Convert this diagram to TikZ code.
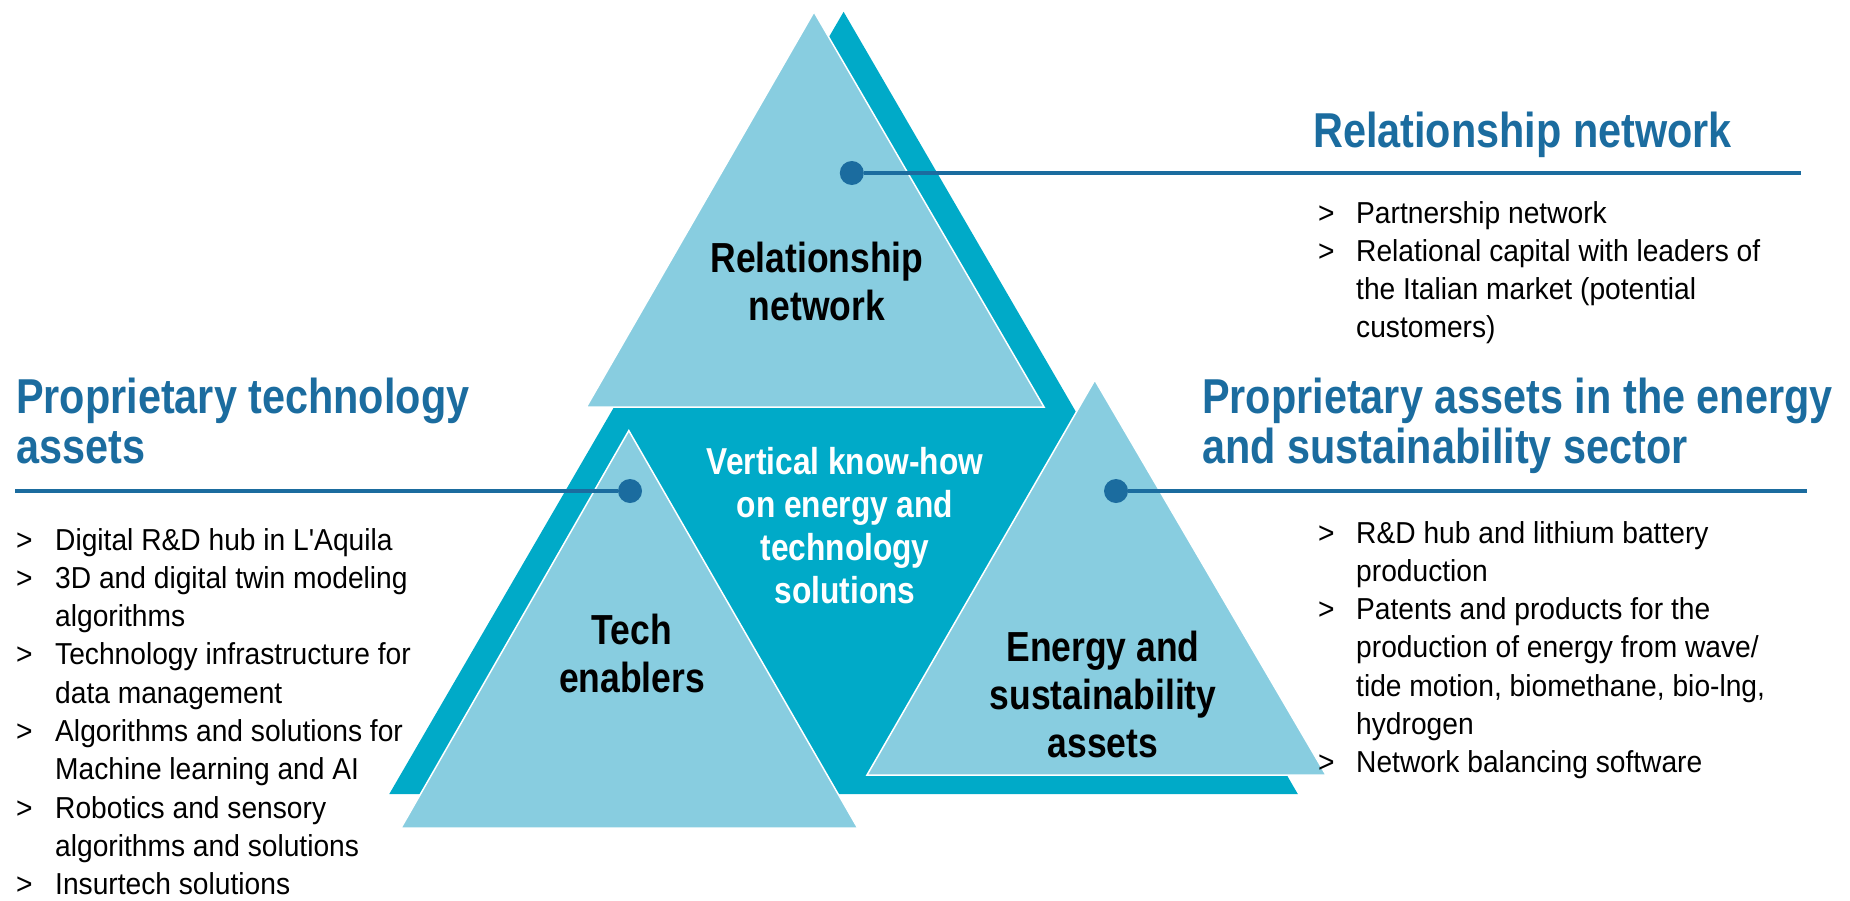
\documentclass[tikz,border=0pt]{standalone}
\usepackage{fontspec}
\setmainfont{Liberation Sans}[FakeStretch=0.93]
\newfontfamily\bodyfont{Liberation Sans}[FakeStretch=0.93]
\newfontfamily\headfont{Liberation Sans}[FakeStretch=0.845]
\definecolor{triLight}{HTML}{88CDE0}
\definecolor{triDark}{HTML}{00AAC8}
\definecolor{headBlue}{HTML}{1B6C9F}
\begin{document}
\begin{tikzpicture}[x=1pt,y=-1pt,
  darktri/.style={fill=triDark},
  lighttri/.style={fill=triLight, draw=white, line width=1.5pt},
  heading/.style={text=headBlue, font=\headfont\bfseries\fontsize{49}{50.5}\selectfont, anchor=base west, inner sep=0pt},
  bodylist/.style={font=\bodyfont\fontsize{30.3}{38.3}\selectfont, anchor=base west, inner sep=0pt},
  trilabel/.style={font=\headfont\bfseries\fontsize{42}{48}\selectfont, anchor=base, inner sep=0pt},
  knowhow/.style={text=white, font=\headfont\bfseries\fontsize{37.5}{43}\selectfont, anchor=base, inner sep=0pt},
  leader/.style={draw=headBlue, line width=4pt},
  hubdot/.style={circle, fill=headBlue, minimum size=24pt, inner sep=0pt}]
\useasboundingbox (0,0) rectangle (1850,900);

% large dark triangle behind the three blocks
\coordinate (dA) at (843.6,11.8);
\coordinate (dL) at (389.3,794);
\coordinate (dR) at (1297.8,794);
\fill[darktri] (dA) -- (dL) -- (dR) -- cycle;

% top block
\coordinate (tA) at (814,11.8);
\coordinate (tL) at (586.4,407);
\coordinate (tR) at (1044,407);
\filldraw[lighttri] (tA) -- (tL) -- (tR) -- cycle;

% left block
\coordinate (lA) at (628.8,430.6);
\coordinate (lL) at (401,828);
\coordinate (lR) at (857.7,828);
\filldraw[lighttri] (lA) -- (lL) -- (lR) -- cycle;

% right block
\coordinate (rA) at (1094.8,380);
\coordinate (rL) at (867,775);
\coordinate (rR) at (1326,775);
\filldraw[lighttri] (rA) -- (rL) -- (rR) -- cycle;

% block labels
\node[trilabel] (relLabel) at (817,272.5) {\begin{tabular}[t]{@{}c@{}}Relationship\\network\end{tabular}};
\node[trilabel] (techLabel) at (632,644) {\begin{tabular}[t]{@{}c@{}}Tech\\enablers\end{tabular}};
\node[trilabel] (energyLabel) at (1103,661) {\begin{tabular}[t]{@{}c@{}}Energy and\\sustainability\\assets\end{tabular}};
\node[knowhow] (knowLabel) at (845,474) {\begin{tabular}[t]{@{}c@{}}Vertical know-how\\on energy and\\technology\\solutions\end{tabular}};

% leader lines and hub dots
\node[hubdot] (dotTop) at (851.8,173) {};
\node[hubdot] (dotLeft) at (630,491) {};
\node[hubdot] (dotRight) at (1116,491) {};
\coordinate (topEnd) at (1801,173);
\coordinate (leftEnd) at (15,491);
\coordinate (rightEnd) at (1807,491);
\draw[leader] (dotTop) -- (topEnd);
\draw[leader] (leftEnd) -- (dotLeft);
\draw[leader] (dotRight) -- (rightEnd);

% headings
\node[heading] (relHead) at (1313,147) {Relationship network};
\node[heading] (techHead) at (16,413) {\begin{tabular}[t]{@{}l@{}}Proprietary technology\\assets\end{tabular}};
\node[heading] (energyHead) at (1202,413) {\begin{tabular}[t]{@{}l@{}}Proprietary assets in the energy\\and sustainability sector\end{tabular}};

% bullet lists
\node[bodylist] (relList) at (1318,223) {\begin{tabular}[t]{@{}p{38pt}@{}l@{}}
>& Partnership network\\
>& Relational capital with leaders of\\
 & the Italian market (potential\\
 & customers)
\end{tabular}};
\node[bodylist] (techList) at (16,550) {\begin{tabular}[t]{@{}p{39pt}@{}l@{}}
>& Digital R\&D hub in L'Aquila\\
>& 3D and digital twin modeling\\
 & algorithms\\
>& Technology infrastructure for\\
 & data management\\
>& Algorithms and solutions for\\
 & Machine learning and AI\\
>& Robotics and sensory\\
 & algorithms and solutions\\
>& Insurtech solutions
\end{tabular}};
\node[bodylist] (energyList) at (1318,543) {\begin{tabular}[t]{@{}p{38pt}@{}l@{}}
>& R\&D hub and lithium battery\\
 & production\\
>& Patents and products for the\\
 & production of energy from wave/\\
 & tide motion, biomethane, bio-lng,\\
 & hydrogen\\
>& Network balancing software
\end{tabular}};
\end{tikzpicture}
\end{document}
